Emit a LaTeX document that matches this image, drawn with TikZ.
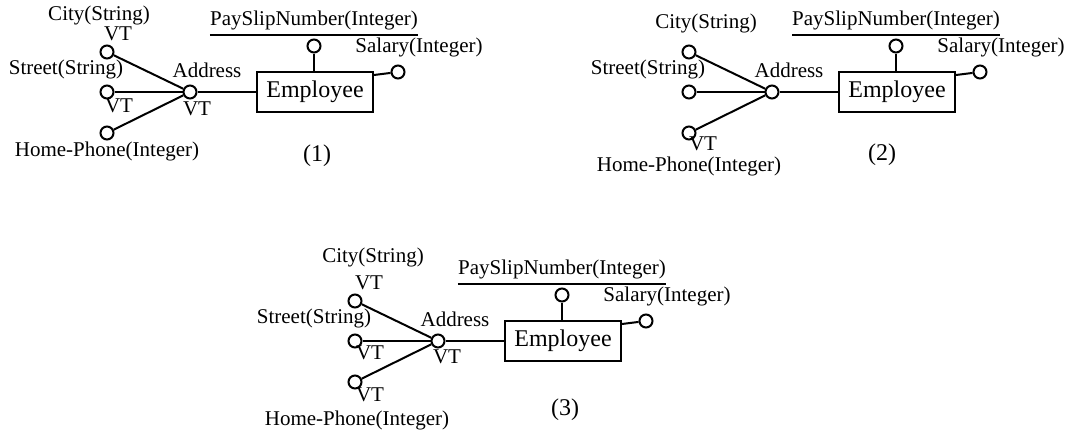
\documentclass[tikz,border=0pt]{standalone}
\usepackage{fontspec}
\setmainfont{Liberation Serif}
\begin{document}
\begin{tikzpicture}[x=1pt,y=-1pt,
  attr/.style={circle,draw,line width=2pt,minimum size=13pt,inner sep=0pt},
  lbl/.style={font=\fontsize{21}{21}\selectfont,inner sep=0pt},
  ent/.style={draw,line width=2pt,minimum width=116pt,minimum height=40pt,inner sep=0pt,font=\fontsize{24}{24}\selectfont},
  numlbl/.style={font=\fontsize{24}{24}\selectfont,inner sep=0pt},
  conn/.style={line width=2pt}]
\useasboundingbox (0,0) rectangle (1066,429);
\newcommand\erbase{%
  \node[attr] (city) at (107,52) {};
  \node[attr] (street) at (107,92) {};
  \node[attr] (home) at (107,133) {};
  \node[attr] (addr) at (190,92) {};
  \node[lbl] (addrlbl) at (207,70) {Address};
  \node[lbl] (streetlbl) at (66,69) {Street(String)};
  \node[ent] (emp) at (315,92) {Employee};
  \node[lbl] (pay) at (314,20) {PaySlipNumber(Integer)};
  \node[attr] (payc) at (314,46) {};
  \node[attr] (sal) at (398,72) {};
  \node[lbl] (sallbl) at (419,47) {Salary(Integer)};
  \draw[conn] (city) -- (addr);
  \draw[conn] (street) -- (addr);
  \draw[conn] (home) -- (addr);
  \draw[conn] (addr) -- (emp);
  \draw[conn] (payc) -- (payc |- emp.north);
  \draw[conn] ([yshift=-4pt]emp.north east) -- (sal);
  \draw[line width=2.4pt] ([yshift=-5pt]pay.south west) -- ([yshift=-5pt]pay.south east);
}
% Diagram (1)
\begin{scope}[name prefix=a-]
  \erbase
  \node[lbl] (citylbl) at (99,15) {City(String)};
  \node[lbl] (cityvt) at (118,34) {VT};
  \node[lbl] (streetvt) at (119,106) {VT};
  \node[lbl] (addrvt) at (197,109) {VT};
  \node[lbl] (homelbl) at (107,151) {Home-Phone(Integer)};
  \node[numlbl] (num) at (317,156) {(1)};
\end{scope}
% Diagram (2)
\begin{scope}[shift={(582,0)},name prefix=b-]
  \erbase
  \node[lbl] (citylbl) at (124,23) {City(String)};
  \node[lbl] (homevt) at (121,144) {VT};
  \node[lbl] (homelbl) at (107,166) {Home-Phone(Integer)};
  \node[numlbl] (num) at (300,155) {(2)};
\end{scope}
% Diagram (3)
\begin{scope}[shift={(248,249)},name prefix=c-]
  \erbase
  \node[lbl] (citylbl) at (125,8) {City(String)};
  \node[lbl] (cityvt) at (121,34) {VT};
  \node[lbl] (streetvt) at (122,104) {VT};
  \node[lbl] (addrvt) at (199,108) {VT};
  \node[lbl] (homevt) at (122,146) {VT};
  \node[lbl] (homelbl) at (109,171) {Home-Phone(Integer)};
  \node[numlbl] (num) at (317,161) {(3)};
\end{scope}
\end{tikzpicture}
\end{document}
